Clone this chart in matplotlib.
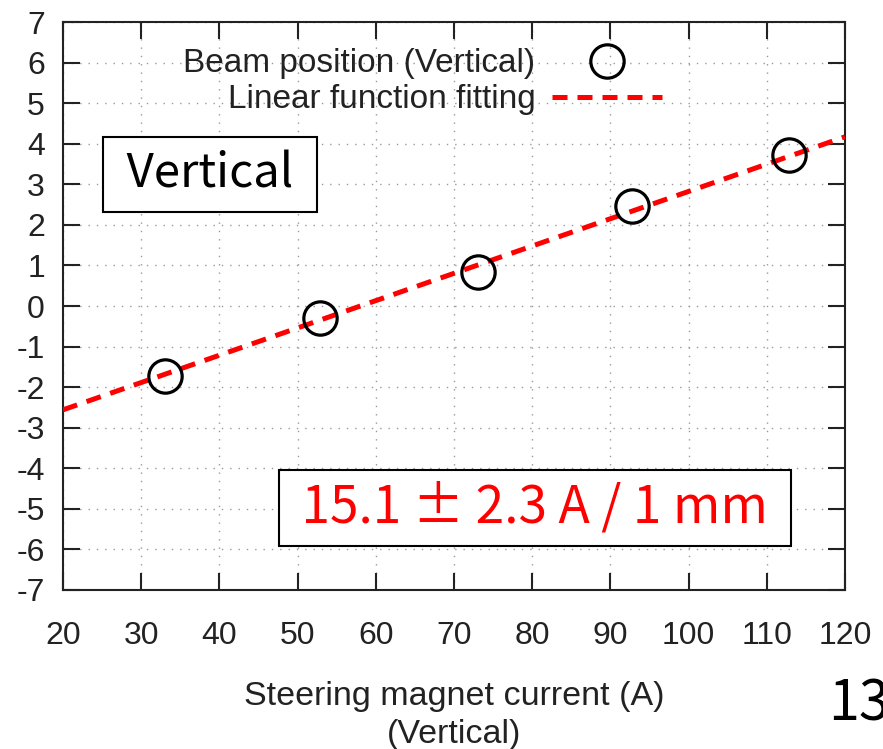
import numpy as np
import matplotlib
matplotlib.use("Agg")
import matplotlib.pyplot as plt

# beam position vs steering magnet current
current = [33.0, 52.9, 73.1, 92.8, 112.8]
position = [-1.72, -0.29, 0.84, 2.47, 3.72]

# linear fit: y = fit_a + fit_b * x
fit_a = -3.906
fit_b = 0.0673
fit_x = [20, 120]

x_ticks = list(range(20, 121, 10))
y_ticks = list(range(-7, 8))

plt.rcParams['font.family'] = ['Liberation Sans', 'DejaVu Sans']
plt.rcParams['axes.unicode_minus'] = False

fig = plt.figure(figsize=(8.83, 7.49), dpi=100)
ax = fig.add_axes([0.0713, 0.2123, 0.8856, 0.7583])

fx = np.array(fit_x, dtype=float)
ax.plot(fx, fit_a + fit_b * fx, color='red', lw=3.6, dashes=(3, 2),
        label='Linear function fitting', zorder=3)
ax.plot(current, position, 'o', ms=24, mfc='none', mec='black', mew=2.3,
        label='Beam position (Vertical)', zorder=4)

ax.set_xlim(20, 120)
ax.set_ylim(-7, 7)
ax.set_xticks(x_ticks)
ax.set_yticks(y_ticks)
ax.grid(True, color='#999999', lw=1.0, linestyle=(0, (1, 5)))
ax.tick_params(direction='in', length=12, width=1.5, top=True, right=True,
               labelsize=23, colors='#222222')
ax.tick_params(axis='x', pad=22)
ax.tick_params(axis='y', pad=13)
for s in ax.spines.values():
    s.set_linewidth(1.5)
    s.set_color('#222222')

ax.set_xlabel('Steering magnet current (A)\n(Vertical)',
              fontsize=24.5, color='#222222', labelpad=22, linespacing=1.3)

h, l = ax.get_legend_handles_labels()
leg = ax.legend(h[::-1], l[::-1], loc='upper right', bbox_to_anchor=(0.796, 0.995),
                frameon=False, markerfirst=False, fontsize=24,
                handlelength=3.3, handletextpad=0.5, labelspacing=0.15,
                borderaxespad=0.3)
for t in leg.get_texts():
    t.set_color('#222222')

ax.text(0.068, 0.732, ' Vertical ', transform=ax.transAxes,
        family=['Noto Sans CJK JP', 'DejaVu Sans'], fontsize=34,
        va='center', ha='left',
        bbox=dict(boxstyle='square,pad=0.28', fc='white', ec='black', lw=1.5))

ax.text(0.6036, 0.145, ' 15.1 ± 2.3 A / 1 mm ', transform=ax.transAxes,
        family=['Noto Sans CJK JP', 'DejaVu Sans'], fontsize=37, color='red',
        va='center', ha='center',
        bbox=dict(boxstyle='square,pad=0.22', fc='white', ec='black', lw=1.5))

fig.text(0.938, 0.059, '13', family=['Noto Sans CJK JP', 'DejaVu Sans'],
         fontsize=40, va='center', ha='left')

fig.savefig('out.png', dpi=100)
